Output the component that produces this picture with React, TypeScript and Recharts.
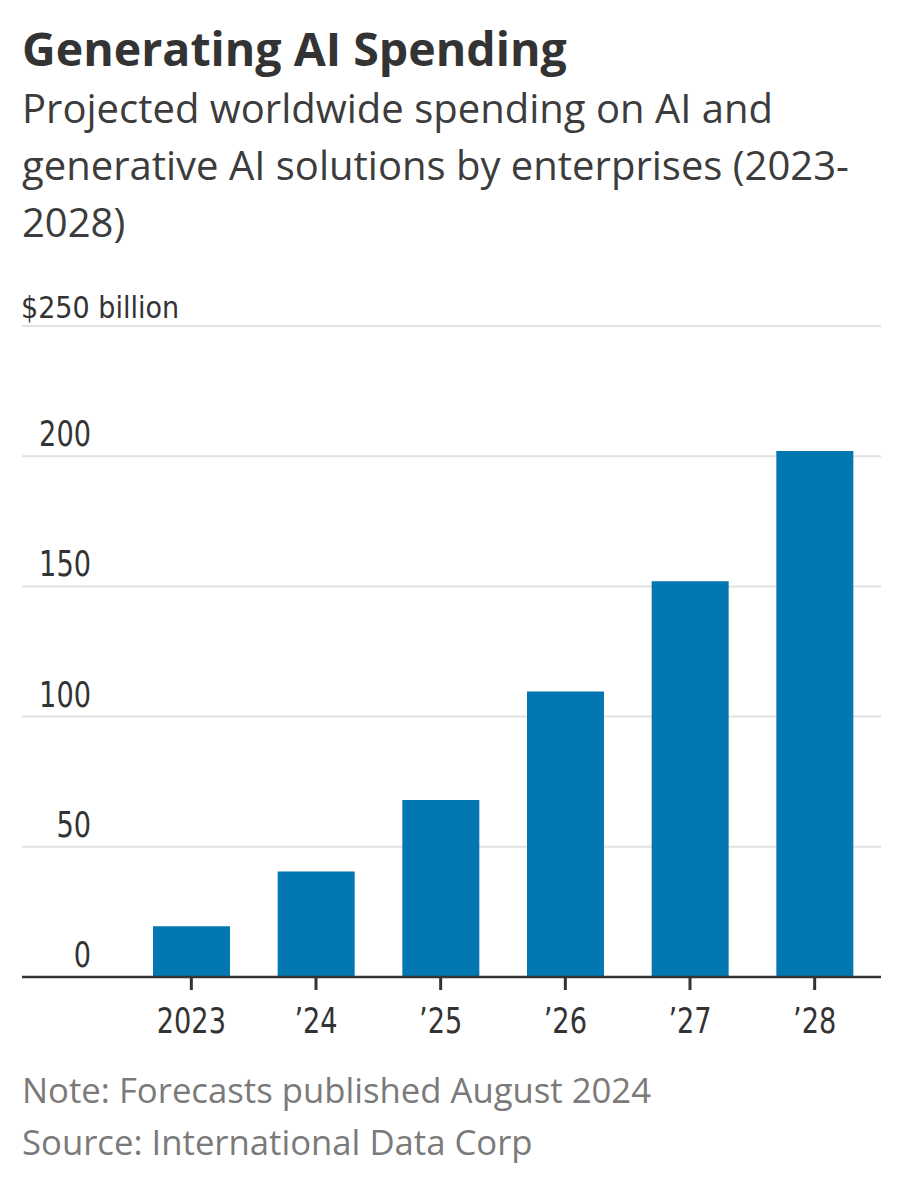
import React from 'react';
import { BarChart, Bar, XAxis, YAxis, CartesianGrid } from 'recharts';

const categories = ['2023', '\u201924', '\u201925', '\u201926', '\u201927', '\u201928'];
const spending = [19.5, 40.5, 68, 109.6, 152, 202];
const yTicks = [0, 50, 100, 150, 200, 250];
const yTickLabels = ['0', '50', '100', '150', '200', '$250 billion'];

const title = 'Generating AI Spending';
const subtitleLines = [
  'Projected worldwide spending on AI and',
  'generative AI solutions by enterprises (2023-',
  '2028)',
];
const noteLines = ['Note: Forecasts published August 2024', 'Source: International Data Corp'];

const data = categories.map((c, i) => ({ year: c, value: spending[i] }));

const COND = '"DejaVu Sans Condensed", "DejaVu Sans", sans-serif';
const SANS = '"Open Sans", Lato, sans-serif';
const SQUEEZE = 0.84;
const TICK_SIZE = 13;
const TICK_MARGIN = 18;

const renderYTick = (props: any) => {
  const { y, payload } = props;
  const idx = yTicks.indexOf(payload.value);
  const label = yTickLabels[idx];
  if (payload.value === 250) {
    return (
      <text x={21} y={y - 8} textAnchor="start" fill="#333" style={{ fontFamily: COND, fontSize: 30 }}>
        {label}
      </text>
    );
  }
  return (
    <text
      transform={`translate(91, ${y - 10}) scale(${SQUEEZE}, 1)`}
      x={0}
      y={0}
      textAnchor="end"
      fill="#333"
      style={{ fontFamily: COND, fontSize: 36 }}
    >
      {label}
    </text>
  );
};

const renderXTick = (props: any) => {
  const { x, y, payload } = props;
  return (
    <g transform={`translate(${x}, ${y})`}>
      <rect x={-1.5} y={-TICK_SIZE - TICK_MARGIN} width={3} height={TICK_SIZE} fill="#333" />
      <text
        transform={`translate(0, 25) scale(${SQUEEZE}, 1)`}
        x={0}
        y={0}
        textAnchor="middle"
        fill="#333"
        stroke="none"
        style={{ fontFamily: COND, fontSize: 36 }}
      >
        {payload.value}
      </text>
    </g>
  );
};

export default function App() {
  return (
    <div style={{ position: 'absolute', left: 0, top: 0, width: 903, height: 1200, background: '#fff' }}>
      <BarChart
        width={903}
        height={1200}
        data={data}
        margin={{ top: 326, right: 22, left: 21, bottom: 163 }}
      >
        <CartesianGrid vertical={false} stroke="#e2e2e2" strokeWidth={2} />
        <YAxis
          domain={[0, 250]}
          ticks={yTicks}
          width={1}
          axisLine={false}
          tickLine={false}
          tick={renderYTick}
          interval={0}
        />
        <XAxis
          dataKey="year"
          height={60}
          padding={{ left: 107, right: 4 }}
          axisLine={{ stroke: '#333', strokeWidth: 2.5 }}
          tickLine={false}
          tickSize={TICK_SIZE}
          tickMargin={TICK_MARGIN}
          tick={renderXTick}
          interval={0}
        />
        <Bar dataKey="value" fill="#0277b1" barSize={77} isAnimationActive={false} />
      </BarChart>
      <svg width={903} height={1200} style={{ position: 'absolute', left: 0, top: 0, pointerEvents: 'none' }}>
        <text x={22} y={66} fill="#333" style={{ fontFamily: SANS, fontWeight: 700, fontSize: 46.5 }}>
          {title}
        </text>
        {subtitleLines.map((t, i) => (
          <text key={i} x={22} y={123 + i * 57} fill="#3c3c3c" style={{ fontFamily: SANS, fontSize: 40 }}>
            {t}
          </text>
        ))}
        {noteLines.map((t, i) => (
          <text key={i} x={22} y={1103 + i * 52} fill="#7a7a7a" style={{ fontFamily: SANS, fontSize: 34.7 }}>
            {t}
          </text>
        ))}
      </svg>
    </div>
  );
}
